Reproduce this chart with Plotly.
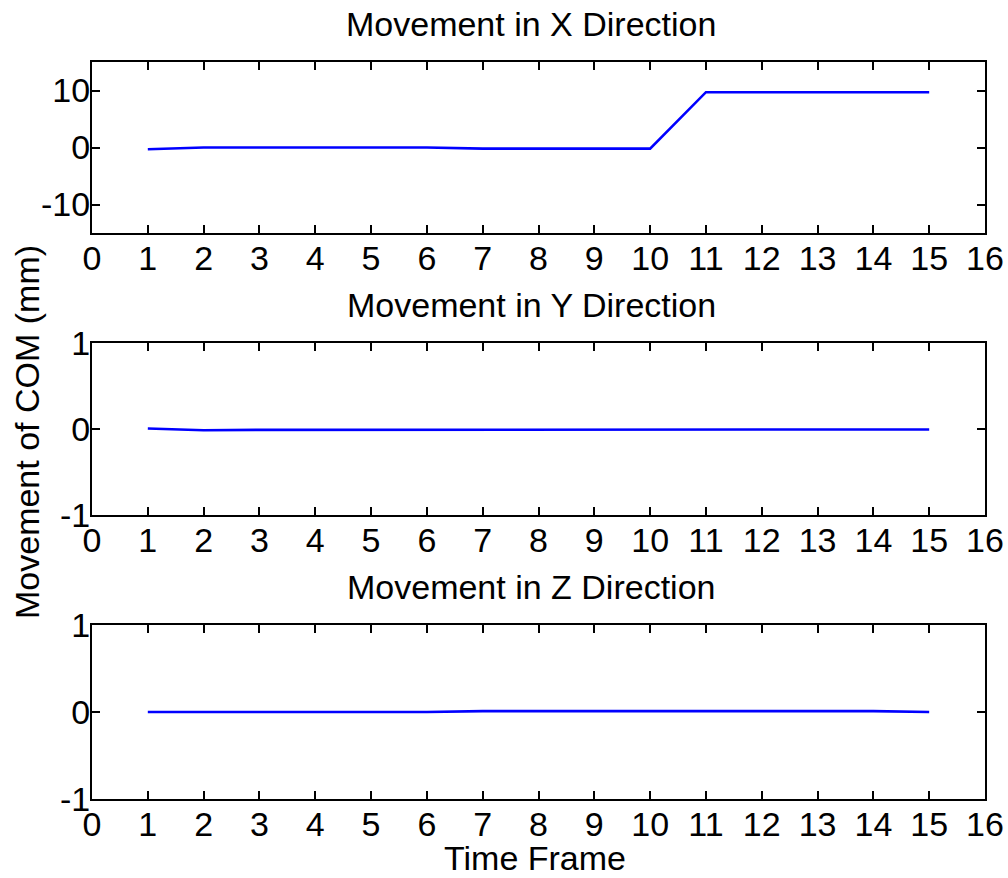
import plotly.graph_objects as go

# Centre-of-mass displacement per time frame (mm)
frames = list(range(1, 16))
move_x = [-0.3, 0.0, 0.0, 0.0, 0.0, 0.0, -0.2, -0.2, -0.2, -0.2, 9.7, 9.7, 9.7, 9.7, 9.7]
move_y = [0.005, -0.015, -0.01, -0.01, -0.01, -0.005, -0.005, -0.005, -0.005, -0.005, -0.005, -0.005, -0.005, -0.005, -0.005]
move_z = [0.0, 0.0, 0.0, 0.0, 0.0, 0.0, 0.01, 0.01, 0.01, 0.01, 0.01, 0.01, 0.01, 0.01, 0.0]

titles = ["Movement in X Direction", "Movement in Y Direction", "Movement in Z Direction"]
y_ranges = [[-15, 15], [-1, 1], [-1, 1]]
y_ticks = [[-10, 0, 10], [-1, 0, 1], [-1, 0, 1]]
y_ticktext = [["-10", "0", "10"], ["-1", "0", "1"], ["-1", "0", "1"]]
x_ticks = list(range(0, 17))

W, H = 1008, 878
left, right = 92, 985
panels = [(62, 233), (343, 515), (625, 799)]

FONT = "Liberation Sans, Arial, sans-serif"
fs = 34

fig = go.Figure()
layout = dict(
    width=W, height=H,
    margin=dict(l=0, r=0, t=0, b=0),
    paper_bgcolor="white", plot_bgcolor="white",
    showlegend=False,
    font=dict(family=FONT, size=fs, color="black"),
    annotations=[],
)

for i, (series, top, bot) in enumerate(zip([move_x, move_y, move_z], *zip(*panels))):
    n = "" if i == 0 else str(i + 1)
    fig.add_trace(go.Scatter(
        x=frames, y=series, mode="lines",
        line=dict(color="#0000ff", width=2.6),
        xaxis="x" + n, yaxis="y" + n,
    ))
    axis_common = dict(
        showline=True, linecolor="black", linewidth=2, mirror="ticks",
        ticks="inside", ticklen=8, tickwidth=2, tickcolor="black",
        showgrid=False, zeroline=False, fixedrange=True, automargin=False,
        tickfont=dict(family=FONT, size=fs, color="black"),
    )
    layout["xaxis" + n] = dict(
        axis_common, domain=[left / W, right / W], range=[0, 16],
        tickvals=x_ticks, anchor="y" + n, ticklabelstandoff=-6,
    )
    layout["yaxis" + n] = dict(
        axis_common, domain=[1 - bot / H, 1 - top / H], range=y_ranges[i],
        tickvals=y_ticks[i], ticktext=y_ticktext[i], anchor="x" + n,
        ticklabelstandoff=-7,
    )
    layout["annotations"].append(dict(
        text=titles[i], x=(left + right) / 2 / W - 0.007, y=1 - (top - 38) / H,
        xref="paper", yref="paper", xanchor="center", yanchor="middle",
        showarrow=False, font=dict(family=FONT, size=fs, color="black"),
    ))

layout["annotations"].append(dict(
    text="Time Frame", x=535 / W, y=1 - 858 / H, xref="paper", yref="paper",
    xanchor="center", yanchor="middle", showarrow=False,
    font=dict(family=FONT, size=fs, color="black"),
))
layout["annotations"].append(dict(
    text="Movement of COM (mm)", x=27 / W, y=1 - 432 / H, xref="paper", yref="paper",
    xanchor="center", yanchor="middle", textangle=-90, showarrow=False,
    font=dict(family=FONT, size=fs, color="black"),
))

fig.update_layout(**layout)
fig.write_html("out.html")
